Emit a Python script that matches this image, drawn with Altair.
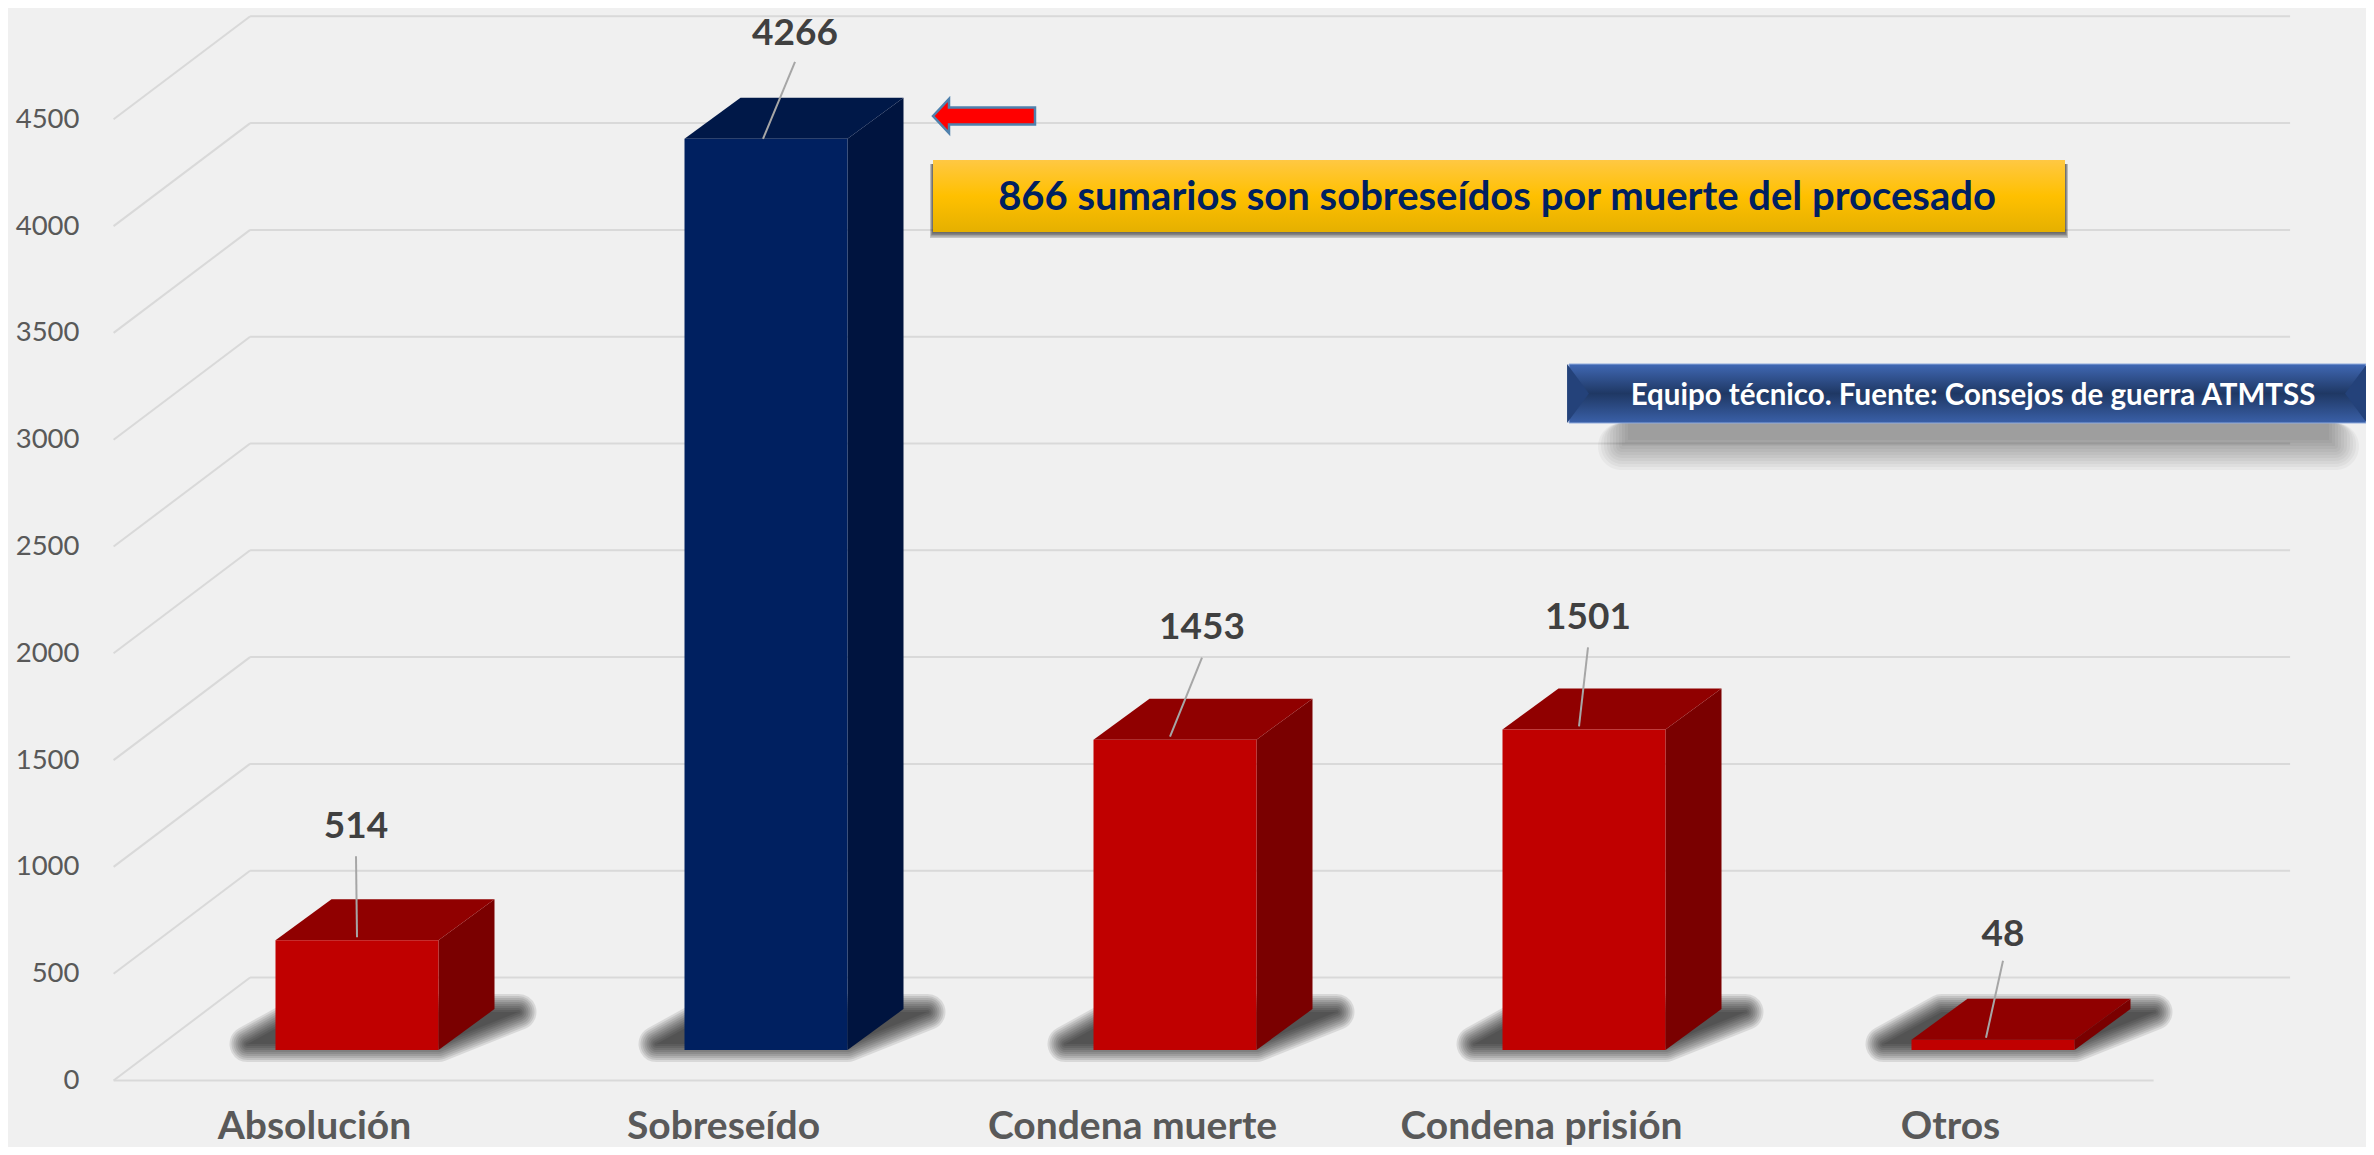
import altair as alt
import pandas as pd

# ---- chart values ----
CATEGORIES = ["Absolución", "Sobreseído", "Condena muerte", "Condena prisión", "Otros"]
VALUES = [514, 4266, 1453, 1501, 48]
TICKS = [0, 500, 1000, 1500, 2000, 2500, 3000, 3500, 4000, 4500]
HIGHLIGHT = ["Sobreseído"]
NOTE = "866 sumarios son sobreseídos por muerte del procesado"
SOURCE = "Equipo técnico. Fuente: Consejos de guerra ATMTSS"

# ---- layout of the pseudo-3D frame ----
W, H = 2358, 1139
RIGHT = 8 + W
PX_PER_CAT = 409.0
PX_PER_VAL = 0.2136
X0_REF, Y0_REF = 357.0, 1080.5           # reference pixel of index 0 / value 0
ux = lambda px: px / PX_PER_CAT
uy = lambda px: px / PX_PER_VAL
X_DOMAIN = [(8 - X0_REF) / PX_PER_CAT, (8 + W - X0_REF) / PX_PER_CAT]
Y_DOMAIN = [(Y0_REF - 8 - H) / PX_PER_VAL, (Y0_REF - 8) / PX_PER_VAL]
HALF = ux(81.5)
BASE = uy(30.5)
DEPTH_X, DEPTH_Y = ux(56), uy(41)
WALL_X, WALL_Y = ux(136.5), uy(103)
WALL_LEFT = (113.6 - X0_REF) / PX_PER_CAT
WALL_SPAN = ux(2040)

# leader lines and labels, in pixels relative to each bar
LABEL_DX = [-1, 29, 27, 4, 10]
LEADER_DX = [0, -3, -5, -5, -7]
LABEL_UP = [113, 105, 112, 111, 105]
LEADER_TOP = [84, 77, 82, 82, 79]
LEADER_BOTTOM = [3, 0, 3, 3, 2]

RED = ("#c00000", "#900000", "#7a0000")
BLUE = ("#002060", "#001848", "#00143f")

x_scale = alt.Scale(domain=X_DOMAIN, nice=False, zero=False)
y_scale = alt.Scale(domain=Y_DOMAIN, nice=False, zero=False)

names = "[" + ",".join(f"'{c}'" for c in CATEGORIES) + "]"
x_axis = alt.Axis(values=list(range(len(CATEGORIES))), labelExpr=f"{names}[datum.value]",
                  orient="bottom", offset=-40, labelPadding=0, labelOffset=-43,
                  domain=False, ticks=False, grid=False, labelFont="Lato",
                  labelFontSize=39, labelFontWeight="bold", labelColor="#595959",
                  labelOverlap=False, labelFlush=False, labelBound=False, labelLimit=0,
                  title=None)
y_axis = alt.Axis(values=TICKS, orient="left", offset=-71, labelPadding=0, format="d",
                  domain=False, ticks=False, grid=False, labelFont="Lato",
                  labelFontSize=27.5, labelColor="#595959", labelOverlap=False,
                  labelFlush=False, labelBound=False, title=None)


def X(field="x"):
    return alt.X(f"{field}:Q", scale=x_scale, axis=x_axis, title=None)


def Y(field="y"):
    return alt.Y(f"{field}:Q", scale=y_scale, axis=y_axis, title=None)


# ---- frame lines ----
frame = []
for t in TICKS:
    frame.append(dict(id=f"b{t}", x=WALL_LEFT + WALL_X, y=t + WALL_Y))
    frame.append(dict(id=f"b{t}", x=WALL_LEFT + WALL_X + WALL_SPAN, y=t + WALL_Y))
    frame.append(dict(id=f"d{t}", x=WALL_LEFT, y=t))
    frame.append(dict(id=f"d{t}", x=WALL_LEFT + WALL_X, y=t + WALL_Y))
frame.append(dict(id="front", x=WALL_LEFT, y=0))
frame.append(dict(id="front", x=WALL_LEFT + WALL_SPAN, y=0))
grid = alt.Chart(pd.DataFrame(frame)).mark_line(color="#d9d9d9", strokeWidth=2).encode(
    x=X(), y=Y(), detail="id:N")

# ---- floor shadows (blur approximated by nested rounded outlines) ----
layers = [grid]
shadow_rows = []
for i in range(len(CATEGORIES)):
    l, r = i - HALF, i + HALF
    shadow_rows.append(dict(bar=i, y=BASE + uy(6), x=l - ux(28), x2=r + ux(0)))
    shadow_rows.append(dict(bar=i, y=BASE + uy(38), x=l + ux(30), x2=r + ux(80)))
shadow_df = pd.DataFrame(shadow_rows)
for radius in [18, 16, 14, 12, 10, 8, 6, 4, 2, 0]:
    layers.append(alt.Chart(shadow_df).mark_area(
        orient="horizontal", fill="black", stroke="black", strokeWidth=2 * radius,
        strokeJoin="round", opacity=0.095).encode(
        y=Y(), x=X(), x2="x2:Q", detail="bar:N"))

# ---- bars: front, top, side ----
front, top, side = [], [], []
for i, (c, v) in enumerate(zip(CATEGORIES, VALUES)):
    col = BLUE if c in HIGHLIGHT else RED
    l, r, h = i - HALF, i + HALF, BASE + v
    front.append(dict(bar=c, x=l, x2=r, y=h, y2=BASE, col=col[0]))
    top.append(dict(bar=c, y=h, x=l, x2=r, col=col[1]))
    top.append(dict(bar=c, y=h + DEPTH_Y, x=l + DEPTH_X, x2=r + DEPTH_X, col=col[1]))
    side.append(dict(bar=c, x=r, y=h, y2=BASE, col=col[2]))
    side.append(dict(bar=c, x=r + DEPTH_X, y=h + DEPTH_Y, y2=BASE + DEPTH_Y, col=col[2]))
layers.append(alt.Chart(pd.DataFrame(side)).mark_area(orient="vertical").encode(
    x=X(), y=Y(), y2="y2:Q", detail="bar:N", color=alt.Color("col:N", scale=None)))
layers.append(alt.Chart(pd.DataFrame(top)).mark_area(orient="horizontal").encode(
    y=Y(), x=X(), x2="x2:Q", detail="bar:N", color=alt.Color("col:N", scale=None)))
layers.append(alt.Chart(pd.DataFrame(front)).mark_rect().encode(
    x=X(), x2="x2:Q", y=Y(), y2="y2:Q", color=alt.Color("col:N", scale=None)))

# ---- leaders and value labels ----
leaders, labels = [], []
for i, v in enumerate(VALUES):
    h = BASE + v
    leaders.append(dict(bar=i, x=i + ux(LEADER_DX[i]), y=h + uy(LEADER_BOTTOM[i])))
    leaders.append(dict(bar=i, x=i + ux(LABEL_DX[i]), y=h + uy(LEADER_TOP[i])))
    labels.append(dict(x=i + ux(LABEL_DX[i]), y=h + uy(LABEL_UP[i]), t=str(v)))
layers.append(alt.Chart(pd.DataFrame(leaders)).mark_line(color="#a6a6a6", strokeWidth=2).encode(
    x=X(), y=Y(), detail="bar:N"))
layers.append(alt.Chart(pd.DataFrame(labels)).mark_text(
    font="Lato", fontSize=37, fontWeight="bold", color="#404040", baseline="middle").encode(
    x=X(), y=Y(), text="t:N"))

# ---- annotations (page furniture, placed in pixels) ----
one = pd.DataFrame({"a": [0]})


def box(x1, y1, x2, y2, **mark):
    return alt.Chart(one).mark_rect(**mark).encode(
        x=alt.value(x1 - 8), x2=alt.value(x2 - 8), y=alt.value(y1 - 8), y2=alt.value(y2 - 8))


def gradient(*stops):
    return alt.LinearGradient(gradient="linear", x1=0, x2=0, y1=0, y2=1,
                              stops=[alt.GradientStop(color=c, offset=o) for o, c in stops])


def label(x, y, text, **mark):
    return alt.Chart(one).mark_text(baseline="middle", align="center", **mark).encode(
        x=alt.value(x - 8), y=alt.value(y - 8), text=alt.value(text))


# banner shadow
for e in [24, 21, 18, 15, 12, 9, 6, 3, 0, -3, -6]:
    layers.append(box(1622 - e, 423, 2335 + e, 446 + e, color="black", opacity=0.037,
                      cornerRadius=max(e, 0)))
layers.append(box(1569, 364, RIGHT, 423, stroke="#8faadc", strokeWidth=1,
                  fill=gradient((0, "#4068b4"), (0.5, "#1f3864"), (1, "#3a60a8"))))
for cx, path in [(1578, "M-0.37 -1 L0.37 0 L-0.37 1 Z"), (RIGHT - 10, "M0.37 -1 L-0.37 0 L0.37 1 Z")]:
    layers.append(alt.Chart(one).mark_point(shape=path, filled=True, size=3480, opacity=1,
                                            color="#24427a", strokeWidth=0).encode(
        x=alt.value(cx - 8), y=alt.value(393.5 - 8)))
layers.append(label(1973, 396, SOURCE, font="Lato", fontSize=29.5, fontWeight="bold", color="white"))

# yellow note
for e in [6, 4.5, 3, 1.5, 0]:
    layers.append(box(933 - e * 0.5, 164, 2065 + e * 0.5, 232 + e, color="black", opacity=0.18))
layers.append(box(933, 160, 2065, 232,
                  fill=gradient((0, "#ffc843"), (0.5, "#ffc000"), (1, "#e5b000"))))
layers.append(label(1497, 198, NOTE, font="Lato", fontSize=40, fontWeight="bold", color="#002060"))

# arrow
ARROW = "M-1 0 L-0.686 -0.333 L-0.686 -0.167 L1 -0.167 L1 0.167 L-0.686 0.167 L-0.686 0.333 Z"
layers.append(alt.Chart(one).mark_point(shape=ARROW, filled=True, size=10404, opacity=1,
                                        fill="#ff0000", stroke="#4f81ad", strokeWidth=2.5).encode(
    x=alt.value(984 - 8), y=alt.value(116 - 8)))

chart = alt.layer(*layers).properties(
    width=W, height=H, background="#f0f0f0", padding=0,
    autosize=alt.AutoSizeParams(type="none", contains="content"),
).configure_view(stroke=None)

chart.save("out.html", embed_options={"renderer": "svg", "actions": False})
